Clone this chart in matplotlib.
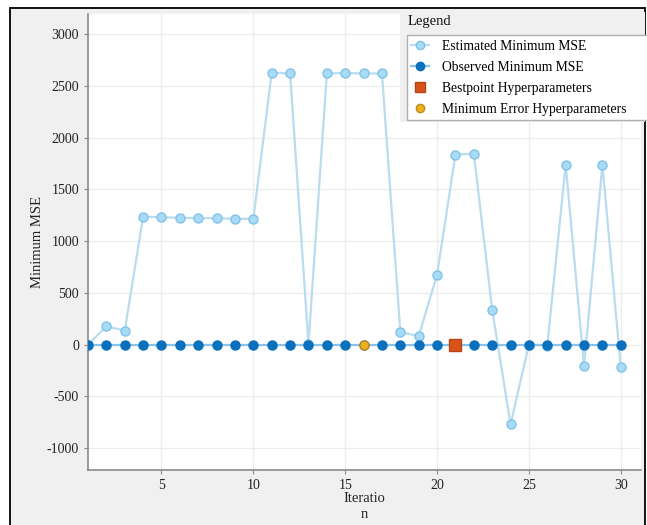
import matplotlib
matplotlib.use("Agg")
import matplotlib.pyplot as plt
from matplotlib.patches import Rectangle
from matplotlib.lines import Line2D

plt.rcParams['font.family'] = ['Liberation Serif', 'DejaVu Serif']
plt.rcParams['axes.unicode_minus'] = False

iterations = list(range(1, 31))
estimated_min_mse = [0, 175, 135, 1237, 1230, 1225, 1222, 1220, 1215, 1215,
                     2628, 2620, 5, 2620, 2625, 2620, 2620, 120, 80, 676,
                     1836, 1845, 338, -773, 0, -10, 1740, -212, 1740, -222]
observed_min_mse = [0] * 30
bestpoint_iter = [21]
bestpoint_val = [0]
minerr_iter = [16]
minerr_val = [0]
yticks = [-1000, -500, 0, 500, 1000, 1500, 2000, 2500, 3000]
xticks = [5, 10, 15, 20, 25, 30]

W, H = 647, 525
fig = plt.figure(figsize=(W / 100, H / 100), dpi=100)
fig.patch.set_facecolor('white')

# outer gray panel with black frame
fig.add_artist(Rectangle((10 / W, -0.01), 635 / W, (517 / H) + 0.01,
                         transform=fig.transFigure, facecolor='#f0f0f0',
                         edgecolor='black', lw=1.3, zorder=0))

ax = fig.add_axes([88 / W, (H - 470) / H, 553 / W, 456 / H])
ax.set_facecolor('white')

est_face = '#a8dcf6'
est_edge = '#7fc3e8'
est_line = '#b9dcef'
obs_col = '#0a6fbd'
obs_line = '#8cc2e8'

ax.plot(iterations, estimated_min_mse, '-o', color=est_line, lw=1.6,
        markersize=6.5, markerfacecolor=est_face, markeredgecolor=est_edge,
        markeredgewidth=1.0, zorder=3)
ax.plot(iterations, observed_min_mse, '-o', color=obs_line, lw=1.6,
        markersize=6.5, markerfacecolor=obs_col, markeredgecolor=obs_col,
        zorder=4)
ax.plot(bestpoint_iter, bestpoint_val, 's', markersize=8.5,
        markerfacecolor='#d95319', markeredgecolor='#b5441a', zorder=5)
ax.plot(minerr_iter, minerr_val, 'o', markersize=6.5,
        markerfacecolor='#edb120', markeredgecolor='#c08a1a', zorder=5)

ax.set_xlim(1, 31.1)
ax.set_ylim(-1213, 3195)
ax.set_xticks(xticks)
ax.set_yticks(yticks)
ax.grid(True, color='#ececec', lw=0.9)
ax.set_axisbelow(True)
for s in ['top', 'right']:
    ax.spines[s].set_visible(False)
for s in ['left', 'bottom']:
    ax.spines[s].set_color('#8a8a8a')
    ax.spines[s].set_linewidth(1.2)
ax.tick_params(axis='both', colors='#8a8a8a', labelcolor='#222222',
               labelsize=10, length=3, width=0.8)
ax.set_xlabel('Iteratio\nn', fontsize=10.5, color='#222222', labelpad=0,
              linespacing=1.25)
ax.set_ylabel('Minimum MSE', fontsize=10.5, color='#222222')
ax.yaxis.set_label_coords(-0.08, 0.5)

# legend panel
fig.add_artist(Rectangle((400 / W, (H - 122) / H), 245 / W, 110 / H,
                         transform=fig.transFigure, facecolor='#f0f0f0',
                         edgecolor='none', zorder=6))
fig.text(408 / W, (H - 22) / H, 'Legend', fontsize=10.5, va='center',
         ha='left', color='#111111', zorder=7)
fig.add_artist(Rectangle((407 / W, (H - 120) / H), 245 / W, 85 / H,
                         transform=fig.transFigure, facecolor='white',
                         edgecolor='#b0b0b0', lw=1.0, zorder=7))
handles = [
    Line2D([], [], color=est_line, lw=1.6, marker='o', markersize=6,
           markerfacecolor=est_face, markeredgecolor=est_edge),
    Line2D([], [], color=obs_line, lw=1.6, marker='o', markersize=6,
           markerfacecolor=obs_col, markeredgecolor=obs_col),
    Line2D([], [], lw=0, marker='s', markersize=6.5,
           markerfacecolor='#d95319', markeredgecolor='#b5441a'),
    Line2D([], [], lw=0, marker='o', markersize=6,
           markerfacecolor='#edb120', markeredgecolor='#c08a1a'),
]
labels = ['Estimated Minimum MSE', 'Observed Minimum MSE',
          'Bestpoint Hyperparameters', 'Minimum Error Hyperparameters']
leg = fig.legend(handles, labels, loc='upper left',
                 bbox_to_anchor=(407 / W, (H - 36) / H),
                 bbox_transform=fig.transFigure, fontsize=9.8,
                 frameon=False, handlelength=1.3,
                 handletextpad=1.0, borderpad=0.3, labelspacing=0.58,
                 borderaxespad=0.0)
leg.set_zorder(8)

fig.savefig('out.png', dpi=100)
